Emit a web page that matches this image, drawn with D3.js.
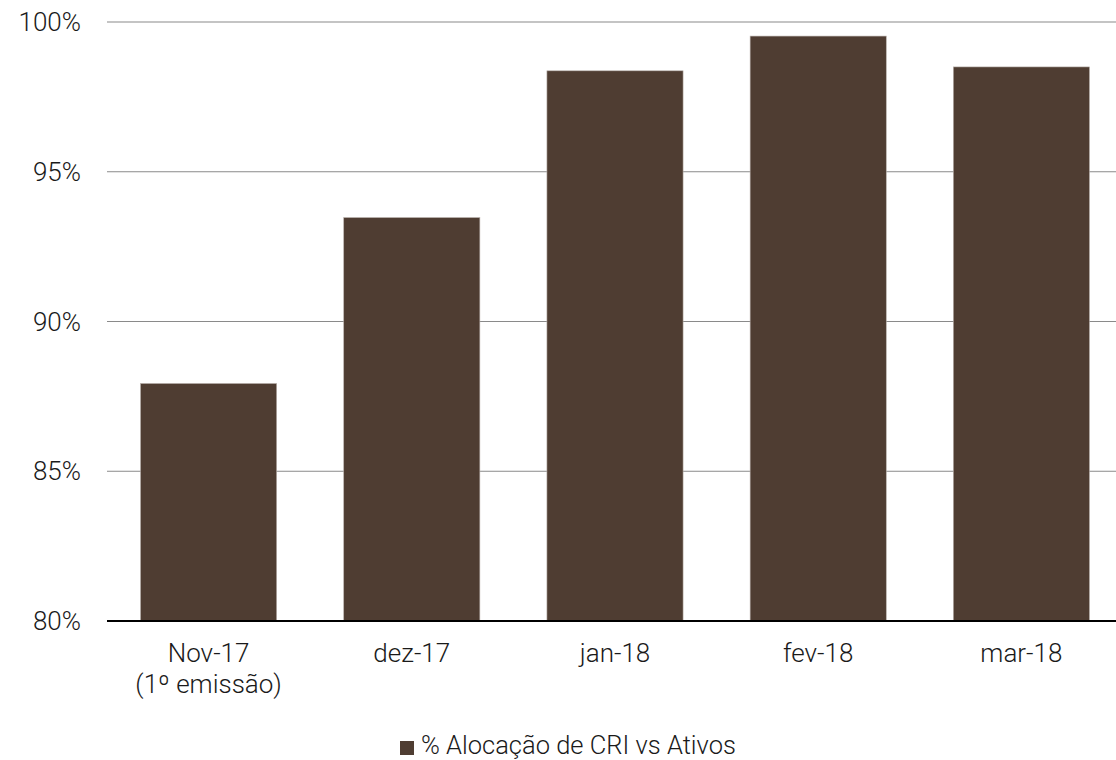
<!DOCTYPE html>
<html><head><meta charset="utf-8">
<script src="https://cdn.jsdelivr.net/npm/d3@7"></script>
<style>
body{margin:0;background:#fff;}
text{font-family:Roboto,"Open Sans",sans-serif;font-weight:300;fill:#1a1a1a;}
</style></head>
<body><svg id="c" width="1116" height="760"></svg>
<script>
const categories = [["Nov-17","(1º emissão)"],["dez-17"],["jan-18"],["fev-18"],["mar-18"]];
const values = [87.93, 93.47, 98.37, 99.53, 98.5];
const yTicks = [80, 85, 90, 95, 100];
const seriesName = "% Alocação de CRI vs Ativos";

const svg = d3.select("#c");
const x = d3.scaleBand().domain(d3.range(categories.length)).range([107, 1123]).paddingInner(0.33).paddingOuter(0.165);
const y = d3.scaleLinear().domain([80, 100]).range([621, 22]);

// gridlines
svg.append("g").selectAll("line").data(yTicks.filter(d=>d>80)).join("line")
  .attr("x1",107).attr("x2",1116).attr("y1",d=>y(d)).attr("y2",d=>y(d))
  .attr("stroke","#8a8a8a").attr("stroke-width",1.2);

// y labels
svg.append("g").selectAll("text").data(yTicks).join("text")
  .attr("x",81).attr("y",d=>y(d)).attr("dy","0.35em").attr("text-anchor","end")
  .attr("font-size",26).text(d=>d+"%");

// bars
svg.append("g").selectAll("rect").data(values).join("rect")
  .attr("x",(d,i)=>x(i)).attr("width",x.bandwidth())
  .attr("y",d=>y(d)).attr("height",d=>y(80)-y(d))
  .attr("fill","#4f3d32").attr("stroke","#b8b0aa").attr("stroke-width",0.6);

// baseline
svg.append("line").attr("x1",107).attr("x2",1116).attr("y1",y(80)).attr("y2",y(80))
  .attr("stroke","#000").attr("stroke-width",2);

// x labels
const xl = svg.append("g").selectAll("text").data(categories).join("text")
  .attr("text-anchor","middle").attr("font-size",26)
  .attr("x",(d,i)=>x(i)+x.bandwidth()/2).attr("y",662);
xl.selectAll("tspan").data(d=>d).join("tspan")
  .attr("x",function(){return d3.select(this.parentNode).attr("x");})
  .attr("dy",(d,i)=>i===0?0:31).text(d=>d);

// legend
const lg = svg.append("g");
lg.append("rect").attr("x",400).attr("y",741).attr("width",14).attr("height",14).attr("fill","#4f3d32");
lg.append("text").attr("x",421).attr("y",754).attr("font-size",25.5).text(seriesName);
</script></body></html>
